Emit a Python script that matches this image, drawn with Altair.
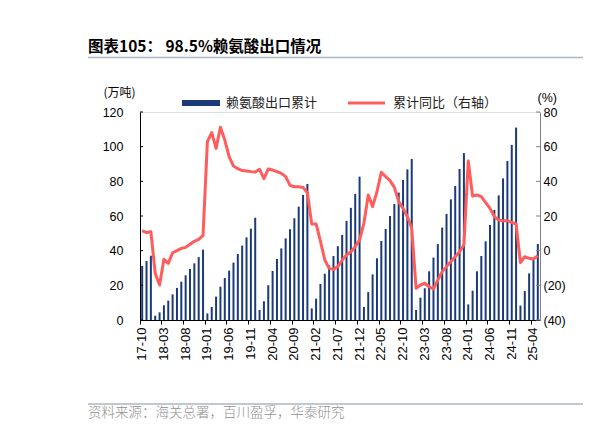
import altair as alt
import pandas as pd

# ---- categories (monthly, 2017-10 .. 2025-05) ----
months = []
_y, _m = 2017, 10
for _ in range(92):
    months.append(f"{_y % 100:02d}-{_m:02d}")
    _m += 1
    if _m > 12:
        _m = 1
        _y += 1

tick_labels = months[::5]

# ---- 98.5% lysine export, cumulative (10k tons) ----
export_cum = [
    31.2, 34.0, 37.1,
    2.5, 4.4, 8.5, 11.2, 14.8, 18.5, 22.1, 25.8, 29.4, 32.7, 36.3, 40.6,
    3.8, 7.5, 13.5, 19.2, 24.2, 28.5, 33.1, 38.1, 42.9, 47.7, 52.7, 59.0,
    5.8, 10.8, 20.0, 28.3, 35.2, 41.3, 47.1, 52.3, 58.7, 65.4, 72.1, 78.5,
    6.7, 12.3, 20.8, 26.7, 31.5, 36.9, 42.6, 49.1, 57.2, 64.7, 72.7, 82.7,
    7.5, 16.1, 26.3, 35.6, 45.6, 52.5, 60.0, 66.9, 73.5, 80.8, 86.9, 92.9,
    5.8, 12.9, 18.3, 28.1, 36.0, 43.8, 53.3, 61.2, 69.6, 77.3, 87.1, 96.3,
    9.0, 16.9, 28.1, 36.9, 45.4, 54.8, 63.5, 71.9, 81.7, 91.7, 101.0, 111.0,
    8.3, 16.7, 26.9, 34.6, 43.9,
]

# ---- cumulative YoY (%), right axis ----
yoy = [
    11.5, 10.4, 11.0,
    -13.1, -19.8, -5.0, -7.3, -1.2, 0.0, 1.3, 1.9, 3.7, 5.4, 6.5, 8.8,
    62.9, 68.1, 59.0, 71.2, 63.8, 54.2, 48.8, 47.3, 46.2, 46.0, 45.6, 45.4,
    46.9, 41.5, 47.1, 46.5, 45.6, 44.6, 42.7, 37.7, 36.9, 36.9, 36.5, 33.3,
    15.4, 15.4, 5.5, -5.4, -10.2, -10.8, -9.2, -5.4, -2.5, -0.6, 2.3, 6.2,
    15.8, 32.1, 25.4, 34.0, 45.2, 42.7, 40.4, 36.5, 28.3, 24.4, 19.6, 12.9,
    -21.7, -19.8, -18.8, -20.8, -22.1, -16.9, -12.1, -9.2, -6.3, -3.5, -0.6, 3.3,
    51.7, 31.5, 32.1, 31.2, 27.7, 24.4, 19.6, 17.7, 17.3, 17.3, 16.3, 15.4,
    -6.9, -3.5, -4.4, -4.8, -2.9,
]

left_ticks = [0, 20, 40, 60, 80, 100, 120]
right_ticks = [-40, -20, 0, 20, 40, 60, 80]

df = pd.DataFrame({"month": months, "export": export_cum, "yoy": yoy})
lt_df = pd.DataFrame({"v": left_ticks})
rt_df = pd.DataFrame({"v": right_ticks})
one = pd.DataFrame({"a": [0]})

NUM_FONT = "Liberation Sans"
CJK = "Noto Sans CJK SC"
BAR = "#1B3A78"
LINE = "#FF5C5C"

W, H = 400, 208

x_enc = alt.X(
    "month:N",
    sort=months,
    scale=alt.Scale(paddingInner=0, paddingOuter=0),
    axis=alt.Axis(
        values=tick_labels, labelAngle=270, title=None,
        bandPosition=0, tickSize=4, tickColor="black", domainColor="black",
        labelFont=NUM_FONT, labelFontSize=13, labelColor="black", labelPadding=3,
        grid=False,
    ),
)

left_scale = alt.Scale(domain=[0, 120], nice=False, zero=False)
right_scale = alt.Scale(domain=[-40, 80], nice=False, zero=False)

bars = alt.Chart(df).mark_bar(size=2, color=BAR).encode(
    x=x_enc,
    y=alt.Y(
        "export:Q", scale=left_scale,
        axis=alt.Axis(
            values=left_ticks, orient="left", title="(万吨)", titleAngle=0,
            titleAlign="left", titleBaseline="middle", titleX=-37, titleY=-20,
            titleFont=CJK, titleFontSize=12, titleFontWeight="normal", titleColor="black",
            labelFont=NUM_FONT, labelFontSize=12.5, labelColor="black",
            tickSize=0, tickColor="black", labelPadding=17, domainColor="black", grid=False,
        ),
    ),
)

line = alt.Chart(df).mark_line(color=LINE, strokeWidth=3, strokeJoin="round").encode(
    x=x_enc,
    y=alt.Y(
        "yoy:Q", scale=right_scale,
        axis=alt.Axis(
            values=right_ticks, orient="right", title="(%)", titleAngle=0,
            titleAlign="left", titleBaseline="middle", titleX=-3, titleY=-15,
            titleFont=NUM_FONT, titleFontSize=12.5, titleFontWeight="normal", titleColor="black",
            labelFont=NUM_FONT, labelFontSize=12.5, labelColor="black",
            labelExpr="datum.value < 0 ? '(' + abs(datum.value) + ')' : datum.label",
            tickSize=0, tickColor="#808080", labelPadding=3, domainColor="#808080", grid=False,
        ),
    ),
)

# short inward tick marks on both value axes
lticks = alt.Chart(lt_df).mark_rule(color="black", strokeWidth=1).encode(
    y=alt.Y("v:Q", scale=left_scale, axis=None),
    x=alt.value(0), x2=alt.value(3),
)
rticks = alt.Chart(rt_df).mark_rule(color="#808080", strokeWidth=1).encode(
    y=alt.Y("v:Q", scale=right_scale, axis=None),
    x=alt.value(W - 4), x2=alt.value(W),
)

base = alt.Chart(one)
title = base.mark_text(
    align="left", baseline="middle", font=CJK, fontSize=15.5, fontWeight="bold", color="black"
).encode(x=alt.value(-52), y=alt.value(-65), text=alt.value("图表105：  98.5%赖氨酸出口情况"))
title_rule = base.mark_rule(color="#A9B7C6", strokeWidth=1.5).encode(
    x=alt.value(-52), x2=alt.value(443), y=alt.value(-54.5)
)
bottom_rule = base.mark_rule(color="#A9B7C6", strokeWidth=1.5).encode(
    x=alt.value(-52), x2=alt.value(443), y=alt.value(292)
)
source = base.mark_text(
    align="left", baseline="middle", font=CJK, fontSize=13.5, fontWeight=300, color="#909090"
).encode(x=alt.value(-52), y=alt.value(301), text=alt.value("资料来源：海关总署，百川盈孚，华泰研究"))

leg_rect = base.mark_rect(color=BAR).encode(
    x=alt.value(42), x2=alt.value(80), y=alt.value(-12), y2=alt.value(-6)
)
leg_text1 = base.mark_text(
    align="left", baseline="middle", font=CJK, fontSize=13, color="#222222"
).encode(x=alt.value(86), y=alt.value(-9), text=alt.value("赖氨酸出口累计"))
leg_line = base.mark_rule(color=LINE, strokeWidth=3).encode(
    x=alt.value(208), x2=alt.value(245), y=alt.value(-9)
)
leg_text2 = base.mark_text(
    align="left", baseline="middle", font=CJK, fontSize=13, color="#222222"
).encode(x=alt.value(253), y=alt.value(-9), text=alt.value("累计同比（右轴）"))

chart = alt.layer(
    bars, line, lticks, rticks, title, title_rule, bottom_rule, source,
    leg_rect, leg_text1, leg_line, leg_text2,
).resolve_scale(y="independent").properties(
    width=W, height=H,
    autosize=alt.AutoSizeParams(type="none"),
    padding={"left": 132, "top": 104, "right": 60, "bottom": 100},
).configure_view(stroke=None).configure(background="white")

chart.save("out.html", embed_options={"renderer": "svg", "actions": False})
